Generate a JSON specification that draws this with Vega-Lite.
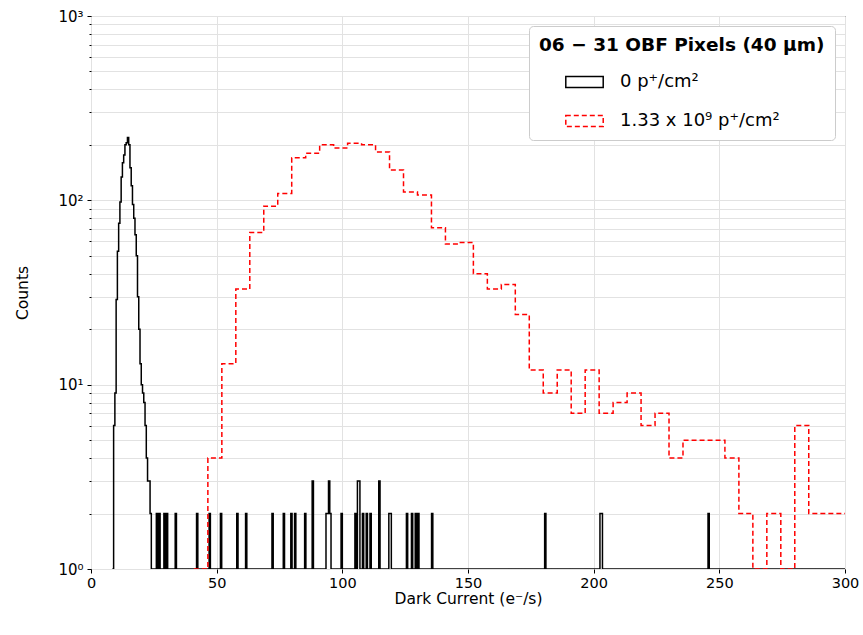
{
  "$schema": "https://vega.github.io/schema/vega-lite/v6.json",
  "autosize": {"type": "none"},
  "width": 754,
  "height": 553,
  "padding": {"left": 91, "top": 16, "right": 18, "bottom": 66},
  "background": "white",
  "config": {
    "font": "DejaVu Sans",
    "view": {"stroke": "black", "strokeWidth": 1}
  },
  "datasets": {
    "hist": [
      {"series": "0 p⁺/cm²", "x": 8.5, "count": 0},
      {"series": "0 p⁺/cm²", "x": 9.0, "count": 6},
      {"series": "0 p⁺/cm²", "x": 9.5, "count": 9},
      {"series": "0 p⁺/cm²", "x": 10.0, "count": 29},
      {"series": "0 p⁺/cm²", "x": 10.5, "count": 53},
      {"series": "0 p⁺/cm²", "x": 11.0, "count": 75},
      {"series": "0 p⁺/cm²", "x": 11.5, "count": 98},
      {"series": "0 p⁺/cm²", "x": 12.0, "count": 134},
      {"series": "0 p⁺/cm²", "x": 12.5, "count": 160},
      {"series": "0 p⁺/cm²", "x": 13.0, "count": 176},
      {"series": "0 p⁺/cm²", "x": 13.5, "count": 200},
      {"series": "0 p⁺/cm²", "x": 14.0, "count": 205},
      {"series": "0 p⁺/cm²", "x": 14.5, "count": 219},
      {"series": "0 p⁺/cm²", "x": 15.0, "count": 200},
      {"series": "0 p⁺/cm²", "x": 15.5, "count": 150},
      {"series": "0 p⁺/cm²", "x": 16.0, "count": 120},
      {"series": "0 p⁺/cm²", "x": 16.5, "count": 95},
      {"series": "0 p⁺/cm²", "x": 17.0, "count": 80},
      {"series": "0 p⁺/cm²", "x": 17.5, "count": 65},
      {"series": "0 p⁺/cm²", "x": 18.0, "count": 50},
      {"series": "0 p⁺/cm²", "x": 18.5, "count": 30},
      {"series": "0 p⁺/cm²", "x": 19.0, "count": 20},
      {"series": "0 p⁺/cm²", "x": 19.5, "count": 13},
      {"series": "0 p⁺/cm²", "x": 20.0, "count": 10},
      {"series": "0 p⁺/cm²", "x": 20.5, "count": 9},
      {"series": "0 p⁺/cm²", "x": 21.0, "count": 8},
      {"series": "0 p⁺/cm²", "x": 21.5, "count": 6},
      {"series": "0 p⁺/cm²", "x": 22.0, "count": 4},
      {"series": "0 p⁺/cm²", "x": 22.5, "count": 3},
      {"series": "0 p⁺/cm²", "x": 23.0, "count": 3},
      {"series": "0 p⁺/cm²", "x": 23.5, "count": 2},
      {"series": "0 p⁺/cm²", "x": 24.0, "count": 0},
      {"series": "0 p⁺/cm²", "x": 26.0, "count": 2},
      {"series": "0 p⁺/cm²", "x": 26.5, "count": 0},
      {"series": "0 p⁺/cm²", "x": 27.0, "count": 2},
      {"series": "0 p⁺/cm²", "x": 27.5, "count": 0},
      {"series": "0 p⁺/cm²", "x": 29.0, "count": 2},
      {"series": "0 p⁺/cm²", "x": 29.5, "count": 0},
      {"series": "0 p⁺/cm²", "x": 30.0, "count": 2},
      {"series": "0 p⁺/cm²", "x": 30.5, "count": 0},
      {"series": "0 p⁺/cm²", "x": 33.5, "count": 2},
      {"series": "0 p⁺/cm²", "x": 34.0, "count": 0},
      {"series": "0 p⁺/cm²", "x": 42.0, "count": 2},
      {"series": "0 p⁺/cm²", "x": 42.5, "count": 0},
      {"series": "0 p⁺/cm²", "x": 47.0, "count": 2},
      {"series": "0 p⁺/cm²", "x": 47.5, "count": 0},
      {"series": "0 p⁺/cm²", "x": 51.5, "count": 2},
      {"series": "0 p⁺/cm²", "x": 52.0, "count": 0},
      {"series": "0 p⁺/cm²", "x": 58.0, "count": 2},
      {"series": "0 p⁺/cm²", "x": 58.5, "count": 0},
      {"series": "0 p⁺/cm²", "x": 61.5, "count": 2},
      {"series": "0 p⁺/cm²", "x": 62.0, "count": 0},
      {"series": "0 p⁺/cm²", "x": 72.0, "count": 2},
      {"series": "0 p⁺/cm²", "x": 72.5, "count": 0},
      {"series": "0 p⁺/cm²", "x": 76.5, "count": 2},
      {"series": "0 p⁺/cm²", "x": 77.0, "count": 0},
      {"series": "0 p⁺/cm²", "x": 79.5, "count": 2},
      {"series": "0 p⁺/cm²", "x": 80.0, "count": 0},
      {"series": "0 p⁺/cm²", "x": 81.0, "count": 2},
      {"series": "0 p⁺/cm²", "x": 81.5, "count": 0},
      {"series": "0 p⁺/cm²", "x": 85.0, "count": 2},
      {"series": "0 p⁺/cm²", "x": 85.5, "count": 0},
      {"series": "0 p⁺/cm²", "x": 88.0, "count": 3},
      {"series": "0 p⁺/cm²", "x": 88.5, "count": 0},
      {"series": "0 p⁺/cm²", "x": 93.5, "count": 2},
      {"series": "0 p⁺/cm²", "x": 94.0, "count": 2},
      {"series": "0 p⁺/cm²", "x": 94.5, "count": 3},
      {"series": "0 p⁺/cm²", "x": 95.0, "count": 2},
      {"series": "0 p⁺/cm²", "x": 95.5, "count": 0},
      {"series": "0 p⁺/cm²", "x": 99.5, "count": 2},
      {"series": "0 p⁺/cm²", "x": 100.0, "count": 0},
      {"series": "0 p⁺/cm²", "x": 105.0, "count": 2},
      {"series": "0 p⁺/cm²", "x": 105.5, "count": 0},
      {"series": "0 p⁺/cm²", "x": 106.0, "count": 3},
      {"series": "0 p⁺/cm²", "x": 106.5, "count": 3},
      {"series": "0 p⁺/cm²", "x": 107.0, "count": 0},
      {"series": "0 p⁺/cm²", "x": 108.0, "count": 2},
      {"series": "0 p⁺/cm²", "x": 108.5, "count": 0},
      {"series": "0 p⁺/cm²", "x": 109.5, "count": 2},
      {"series": "0 p⁺/cm²", "x": 110.0, "count": 0},
      {"series": "0 p⁺/cm²", "x": 111.0, "count": 2},
      {"series": "0 p⁺/cm²", "x": 111.5, "count": 0},
      {"series": "0 p⁺/cm²", "x": 114.5, "count": 3},
      {"series": "0 p⁺/cm²", "x": 115.0, "count": 0},
      {"series": "0 p⁺/cm²", "x": 118.5, "count": 2},
      {"series": "0 p⁺/cm²", "x": 119.0, "count": 2},
      {"series": "0 p⁺/cm²", "x": 119.5, "count": 0},
      {"series": "0 p⁺/cm²", "x": 125.5, "count": 2},
      {"series": "0 p⁺/cm²", "x": 126.0, "count": 0},
      {"series": "0 p⁺/cm²", "x": 127.5, "count": 2},
      {"series": "0 p⁺/cm²", "x": 128.0, "count": 0},
      {"series": "0 p⁺/cm²", "x": 129.0, "count": 2},
      {"series": "0 p⁺/cm²", "x": 129.5, "count": 0},
      {"series": "0 p⁺/cm²", "x": 130.0, "count": 2},
      {"series": "0 p⁺/cm²", "x": 130.5, "count": 0},
      {"series": "0 p⁺/cm²", "x": 135.5, "count": 2},
      {"series": "0 p⁺/cm²", "x": 136.0, "count": 0},
      {"series": "0 p⁺/cm²", "x": 180.5, "count": 2},
      {"series": "0 p⁺/cm²", "x": 181.0, "count": 0},
      {"series": "0 p⁺/cm²", "x": 202.5, "count": 2},
      {"series": "0 p⁺/cm²", "x": 203.0, "count": 2},
      {"series": "0 p⁺/cm²", "x": 203.5, "count": 0},
      {"series": "0 p⁺/cm²", "x": 245.5, "count": 2},
      {"series": "0 p⁺/cm²", "x": 246.0, "count": 0},
      {"series": "0 p⁺/cm²", "x": 300.0, "count": 0},
      {"series": "1.33 x 10⁹ p⁺/cm²", "x": 40.94, "count": 0},
      {"series": "1.33 x 10⁹ p⁺/cm²", "x": 46.50, "count": 4},
      {"series": "1.33 x 10⁹ p⁺/cm²", "x": 52.06, "count": 13},
      {"series": "1.33 x 10⁹ p⁺/cm²", "x": 57.62, "count": 33},
      {"series": "1.33 x 10⁹ p⁺/cm²", "x": 63.18, "count": 67},
      {"series": "1.33 x 10⁹ p⁺/cm²", "x": 68.74, "count": 93},
      {"series": "1.33 x 10⁹ p⁺/cm²", "x": 74.30, "count": 109},
      {"series": "1.33 x 10⁹ p⁺/cm²", "x": 79.86, "count": 170},
      {"series": "1.33 x 10⁹ p⁺/cm²", "x": 85.42, "count": 180},
      {"series": "1.33 x 10⁹ p⁺/cm²", "x": 90.98, "count": 200},
      {"series": "1.33 x 10⁹ p⁺/cm²", "x": 96.54, "count": 192},
      {"series": "1.33 x 10⁹ p⁺/cm²", "x": 102.10, "count": 204},
      {"series": "1.33 x 10⁹ p⁺/cm²", "x": 107.66, "count": 200},
      {"series": "1.33 x 10⁹ p⁺/cm²", "x": 113.22, "count": 183},
      {"series": "1.33 x 10⁹ p⁺/cm²", "x": 118.78, "count": 146},
      {"series": "1.33 x 10⁹ p⁺/cm²", "x": 124.34, "count": 111},
      {"series": "1.33 x 10⁹ p⁺/cm²", "x": 129.90, "count": 107},
      {"series": "1.33 x 10⁹ p⁺/cm²", "x": 135.46, "count": 71},
      {"series": "1.33 x 10⁹ p⁺/cm²", "x": 141.02, "count": 58},
      {"series": "1.33 x 10⁹ p⁺/cm²", "x": 146.58, "count": 59},
      {"series": "1.33 x 10⁹ p⁺/cm²", "x": 152.14, "count": 40},
      {"series": "1.33 x 10⁹ p⁺/cm²", "x": 157.70, "count": 33},
      {"series": "1.33 x 10⁹ p⁺/cm²", "x": 163.26, "count": 35},
      {"series": "1.33 x 10⁹ p⁺/cm²", "x": 168.82, "count": 24},
      {"series": "1.33 x 10⁹ p⁺/cm²", "x": 174.38, "count": 12},
      {"series": "1.33 x 10⁹ p⁺/cm²", "x": 179.94, "count": 9},
      {"series": "1.33 x 10⁹ p⁺/cm²", "x": 185.50, "count": 12},
      {"series": "1.33 x 10⁹ p⁺/cm²", "x": 191.06, "count": 7},
      {"series": "1.33 x 10⁹ p⁺/cm²", "x": 196.62, "count": 12},
      {"series": "1.33 x 10⁹ p⁺/cm²", "x": 202.18, "count": 7},
      {"series": "1.33 x 10⁹ p⁺/cm²", "x": 207.74, "count": 8},
      {"series": "1.33 x 10⁹ p⁺/cm²", "x": 213.30, "count": 9},
      {"series": "1.33 x 10⁹ p⁺/cm²", "x": 218.86, "count": 6},
      {"series": "1.33 x 10⁹ p⁺/cm²", "x": 224.42, "count": 7},
      {"series": "1.33 x 10⁹ p⁺/cm²", "x": 229.98, "count": 4},
      {"series": "1.33 x 10⁹ p⁺/cm²", "x": 235.54, "count": 5},
      {"series": "1.33 x 10⁹ p⁺/cm²", "x": 241.10, "count": 5},
      {"series": "1.33 x 10⁹ p⁺/cm²", "x": 246.66, "count": 5},
      {"series": "1.33 x 10⁹ p⁺/cm²", "x": 252.22, "count": 4},
      {"series": "1.33 x 10⁹ p⁺/cm²", "x": 257.78, "count": 2},
      {"series": "1.33 x 10⁹ p⁺/cm²", "x": 263.34, "count": 0},
      {"series": "1.33 x 10⁹ p⁺/cm²", "x": 268.90, "count": 2},
      {"series": "1.33 x 10⁹ p⁺/cm²", "x": 274.46, "count": 0},
      {"series": "1.33 x 10⁹ p⁺/cm²", "x": 280.02, "count": 6},
      {"series": "1.33 x 10⁹ p⁺/cm²", "x": 285.58, "count": 2},
      {"series": "1.33 x 10⁹ p⁺/cm²", "x": 291.14, "count": 2},
      {"series": "1.33 x 10⁹ p⁺/cm²", "x": 296.70, "count": 2},
      {"series": "1.33 x 10⁹ p⁺/cm²", "x": 302.26, "count": 0}
    ]
  },
  "data": {"name": "hist"},
  "mark": {"type": "line", "interpolate": "step-after", "strokeWidth": 1.5, "clip": true},
  "encoding": {
    "x": {
      "field": "x",
      "type": "quantitative",
      "scale": {"domain": [0, 300], "nice": false, "zero": false},
      "axis": {
        "title": "Dark Current (e⁻/s)",
        "values": [0, 50, 100, 150, 200, 250, 300],
        "grid": true,
        "gridColor": "#e2e2e2",
        "gridWidth": 1,
        "domain": false,
        "labelFlush": false,
        "tickColor": "black",
        "tickSize": 4,
        "labelFontSize": 14.5,
        "labelColor": "black",
        "labelPadding": 3,
        "titleFontSize": 15.5,
        "titleFontWeight": "normal",
        "titleColor": "black",
        "titlePadding": 2
      }
    },
    "y": {
      "field": "count",
      "type": "quantitative",
      "scale": {"type": "log", "domain": [1, 1000], "nice": false, "clamp": true},
      "axis": {
        "title": "Counts",
        "values": [1, 2, 3, 4, 5, 6, 7, 8, 9, 10, 20, 30, 40, 50, 60, 70, 80, 90, 100, 200, 300, 400, 500, 600, 700, 800, 900, 1000],
        "labelExpr": "datum.value == 1 ? '10⁰' : datum.value == 10 ? '10¹' : datum.value == 100 ? '10²' : datum.value == 1000 ? '10³' : ''",
        "labelOverlap": false,
        "grid": true,
        "gridColor": "#e2e2e2",
        "gridWidth": 1,
        "domain": false,
        "tickColor": "black",
        "tickSize": {"condition": {"test": "datum.value == 1 || datum.value == 10 || datum.value == 100 || datum.value == 1000", "value": 4}, "value": 2},
        "labelFontSize": 15,
        "labelColor": "black",
        "labelPadding": 4,
        "titleFontSize": 15.5,
        "titleFontWeight": "normal",
        "titleColor": "black",
        "titlePadding": 27
      }
    },
    "color": {
      "field": "series",
      "type": "nominal",
      "scale": {"domain": ["0 p⁺/cm²", "1.33 x 10⁹ p⁺/cm²"], "range": ["black", "red"]},
      "legend": {
        "title": "06 − 31 OBF Pixels (40 μm)",
        "orient": "top-right",
        "offset": 10,
        "fillColor": "white",
        "strokeColor": "#cccccc",
        "cornerRadius": 4,
        "padding": 10,
        "titleFontSize": 18.5,
        "titleFontWeight": "bold",
        "titleColor": "black",
        "titleLimit": 600,
        "titlePadding": 8,
        "labelFontSize": 18,
        "labelColor": "black",
        "labelOffset": 16,
        "labelLimit": 500,
        "symbolType": "M-1,-0.3H1V0.3H-1Z",
        "symbolSize": 1400,
        "symbolStrokeWidth": 1.5,
        "symbolFillColor": "transparent",
        "symbolOffset": 26,
        "rowPadding": 10
      }
    },
    "strokeDash": {
      "field": "series",
      "type": "nominal",
      "scale": {"domain": ["0 p⁺/cm²", "1.33 x 10⁹ p⁺/cm²"], "range": [[1, 0], [5, 3]]},
      "legend": {
        "title": "06 − 31 OBF Pixels (40 μm)"
      }
    }
  }
}
